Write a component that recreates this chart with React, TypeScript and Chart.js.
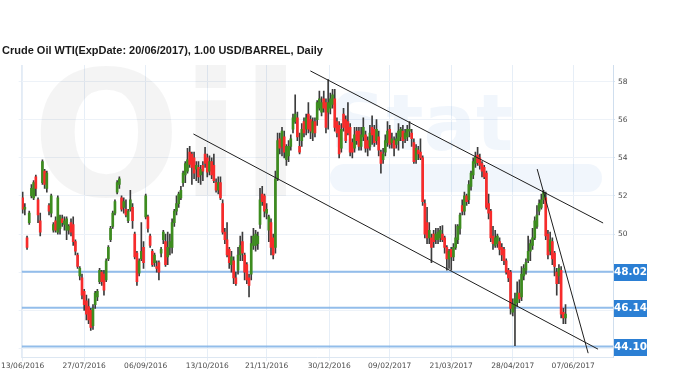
import React, { useEffect, useRef } from 'react';
import { Chart, registerables } from 'chart.js';

Chart.register(...registerables);

// [open, high, low, close] per trading day
const candles: number[][] = [
  [51.9, 52.2, 51.1, 51.3], [51.3, 51.6, 51.0, 51.4], [49.8, 49.9, 49.2, 49.3], [50.6, 51.2, 50.5, 51.1],
  [52.0, 52.6, 51.9, 52.4], [51.9, 52.8, 51.8, 52.7], [53.0, 53.1, 52.0, 52.4], [51.8, 51.9, 50.6, 51.0],
  [50.7, 51.1, 49.9, 50.1], [52.7, 53.9, 52.6, 53.8], [53.3, 53.4, 52.4, 52.6], [52.4, 53.3, 52.2, 53.2],
  [51.5, 51.6, 51.0, 51.2], [51.1, 52.1, 50.9, 52.0], [50.2, 50.6, 50.1, 50.5], [50.7, 50.9, 50.1, 50.2],
  [50.1, 52.0, 50.0, 51.9], [50.3, 51.0, 50.0, 50.9], [50.8, 51.0, 50.4, 50.6], [50.5, 50.9, 50.2, 50.7],
  [50.2, 50.9, 49.7, 50.8], [50.2, 50.5, 50.0, 50.4], [50.6, 50.8, 49.9, 50.1], [50.5, 50.9, 49.4, 49.6],
  [49.6, 49.7, 48.9, 49.1], [48.9, 49.0, 48.2, 48.3], [47.8, 48.3, 47.6, 48.2], [47.7, 47.9, 46.6, 46.8],
  [47.0, 47.1, 46.0, 46.3], [46.5, 46.8, 45.5, 45.8], [46.2, 46.6, 45.3, 45.5], [46.0, 46.1, 44.95, 45.1],
  [45.2, 46.3, 45.0, 46.1], [46.3, 47.0, 46.1, 46.9], [46.7, 47.1, 46.5, 47.0], [47.5, 48.2, 47.4, 48.1],
  [48.0, 48.1, 47.3, 47.5], [47.9, 48.1, 46.8, 47.05], [47.6, 48.7, 47.5, 48.6], [48.7, 49.4, 48.6, 49.3],
  [49.7, 50.4, 49.6, 50.3], [50.4, 51.2, 50.3, 51.1], [51.1, 51.8, 51.0, 51.7], [52.2, 52.8, 52.1, 52.7],
  [52.6, 53.0, 52.4, 52.9], [51.9, 52.0, 51.2, 51.3], [51.4, 51.9, 51.1, 51.7], [51.3, 51.8, 50.9, 51.0],
  [50.7, 51.3, 50.6, 51.2], [51.3, 52.3, 51.2, 51.8], [51.4, 51.6, 50.3, 50.7], [50.0, 50.1, 48.7, 48.8],
  [49.0, 49.1, 47.3, 47.5], [47.95, 48.7, 47.8, 48.6], [48.7, 50.6, 48.6, 49.1], [49.3, 49.6, 48.2, 48.5],
  [50.9, 52.1, 50.8, 52.0], [50.9, 51.0, 50.1, 50.3], [49.9, 50.0, 49.3, 49.4], [49.1, 49.2, 48.3, 48.4],
  // Oct - Nov 2016
  [48.5, 49.0, 48.3, 48.9], [48.3, 48.6, 48.0, 48.2], [48.5, 48.6, 47.6, 48.0], [49.0, 49.3, 48.8, 49.2],
  [49.7, 50.2, 49.5, 50.1], [49.6, 50.0, 48.3, 48.4], [48.8, 50.1, 48.4, 49.3], [49.3, 50.0, 48.9, 49.6],
  [49.3, 50.8, 49.0, 50.6], [50.6, 51.3, 50.4, 51.2], [51.2, 52.0, 51.0, 51.6], [51.6, 52.2, 51.4, 52.1],
  [51.9, 52.5, 51.8, 52.3], [52.7, 53.3, 52.5, 53.2], [53.1, 53.8, 52.7, 53.7], [53.3, 54.5, 53.2, 53.9],
  [54.3, 54.6, 53.5, 53.65], [54.2, 54.3, 52.6, 53.5], [54.0, 54.3, 52.9, 53.2], [53.4, 53.8, 52.8, 53.6],
  [53.5, 53.8, 52.7, 53.0], [53.1, 53.6, 52.6, 53.4], [53.6, 53.8, 52.8, 53.3], [54.2, 54.55, 53.5, 53.7],
  [54.0, 54.2, 53.0, 53.25], [53.3, 54.1, 53.1, 53.8], [53.8, 54.0, 52.9, 53.1], [53.6, 54.2, 52.7, 52.8],
  [52.7, 52.9, 52.2, 52.3], [52.3, 53.0, 52.1, 52.7], [52.7, 53.0, 51.8, 51.9], [51.6, 51.8, 50.0, 50.1],
  [50.1, 50.3, 49.5, 49.7], [49.7, 50.6, 48.8, 48.9], [49.2, 49.3, 48.2, 48.5], [48.4, 49.1, 48.0, 48.8],
  [48.6, 48.8, 47.4, 47.7], [47.7, 48.0, 47.3, 47.4], [48.1, 49.3, 47.9, 48.9], [48.9, 49.9, 48.6, 49.4],
  [49.6, 50.1, 48.6, 49.0], [48.9, 49.0, 47.6, 48.0], [48.4, 48.5, 47.4, 47.6], [47.7, 47.9, 46.7, 47.3],
  [47.9, 49.9, 47.6, 49.5], [49.4, 50.3, 49.2, 49.9], [49.4, 50.2, 49.1, 50.0], [49.5, 50.1, 49.2, 49.9],
  [50.5, 52.4, 50.3, 51.8], [52.1, 52.5, 51.5, 51.7], [52.0, 52.1, 50.9, 51.2], [51.1, 51.6, 50.8, 51.3],
  [50.2, 51.0, 49.6, 50.9], [50.6, 50.8, 48.9, 49.3], [49.8, 50.0, 48.7, 48.9], [49.3, 53.3, 49.0, 52.9],
  [52.9, 55.3, 52.8, 54.9], [55.0, 55.3, 54.2, 54.5], [54.6, 55.6, 54.1, 55.4], [55.1, 55.4, 54.0, 54.3],
  [53.9, 54.7, 53.6, 54.6], [54.1, 54.9, 53.8, 54.6], [54.6, 55.2, 54.4, 55.0], [55.5, 56.3, 55.3, 56.1],
  [55.9, 57.3, 55.8, 56.3], [56.1, 56.4, 54.9, 55.1],
  // Dec 2016 - Mar 2017
  [54.6, 55.3, 54.2, 54.3], [54.9, 55.8, 54.6, 55.5], [55.9, 56.1, 55.1, 55.3], [55.5, 56.3, 55.2, 56.1],
  [56.3, 56.9, 55.3, 55.5], [56.0, 56.2, 55.0, 55.4], [55.3, 56.1, 54.9, 55.9], [55.9, 56.1, 55.1, 55.3],
  [56.0, 57.0, 55.7, 56.9], [56.6, 57.5, 56.5, 57.1], [56.4, 57.2, 56.2, 56.9], [57.1, 57.5, 56.4, 56.6],
  [56.9, 57.1, 55.3, 55.6], [56.4, 58.1, 55.5, 56.9], [56.6, 57.4, 56.3, 57.1], [56.8, 57.6, 56.6, 57.3],
  [57.1, 57.6, 55.4, 55.6], [55.9, 56.1, 55.1, 55.3], [55.7, 55.9, 54.0, 54.2], [54.5, 55.8, 54.3, 55.5],
  [56.3, 56.6, 55.4, 55.6], [56.0, 56.2, 54.8, 54.9], [55.9, 56.9, 55.2, 55.3], [55.6, 55.8, 54.1, 54.3],
  [54.8, 55.0, 54.0, 54.3], [54.5, 55.6, 54.3, 55.2], [55.4, 55.6, 54.7, 54.9], [55.4, 55.6, 54.4, 54.6],
  [54.6, 55.6, 54.4, 55.2], [55.1, 56.1, 54.9, 55.6], [55.2, 55.4, 54.3, 54.5], [54.9, 55.1, 54.1, 54.5],
  [54.6, 55.7, 54.4, 55.3], [55.6, 56.2, 54.7, 55.2], [55.5, 55.7, 54.6, 54.8], [54.9, 56.0, 54.7, 55.5],
  [55.1, 55.4, 54.1, 54.4], [54.3, 54.4, 53.2, 53.7], [53.9, 54.5, 53.7, 54.2], [54.3, 55.2, 54.1, 54.9],
  [54.8, 55.9, 54.6, 55.4], [55.5, 55.7, 54.5, 54.7], [54.8, 55.3, 54.5, 55.0], [54.9, 55.1, 54.1, 54.5],
  [54.7, 55.3, 54.5, 55.0], [54.9, 55.8, 54.4, 55.4], [55.1, 55.6, 54.9, 55.5], [55.4, 55.7, 54.5, 54.9],
  [55.0, 55.5, 54.8, 55.3], [55.1, 55.7, 54.9, 55.5], [55.4, 55.9, 55.1, 55.5], [55.3, 55.5, 54.6, 55.0],
  [54.8, 55.0, 53.7, 53.8], [53.9, 54.7, 53.7, 54.5], [54.4, 54.6, 53.9, 54.2], [54.3, 55.0, 53.9, 54.0],
  [54.0, 54.1, 51.5, 51.7], [51.6, 51.8, 49.8, 50.0], [50.6, 51.4, 49.5, 49.8], [49.8, 50.6, 49.5, 50.2],
  [49.8, 50.0, 48.5, 49.3], [50.0, 50.2, 49.3, 49.6], [49.7, 50.3, 49.5, 50.0], [49.7, 50.3, 49.5, 50.1],
  // Mar - Jun 2017
  [49.8, 50.4, 49.6, 50.2], [50.0, 50.45, 49.6, 49.7], [49.8, 49.9, 49.0, 49.3], [49.3, 49.4, 48.1, 48.7],
  [48.7, 49.2, 48.2, 49.1], [49.2, 49.3, 48.1, 48.8], [48.8, 49.5, 48.6, 49.3], [49.3, 50.5, 49.2, 49.8],
  [49.7, 50.5, 49.5, 50.4], [50.3, 51.1, 50.0, 51.0], [51.5, 51.8, 51.0, 51.2], [51.2, 52.2, 51.0, 52.0],
  [52.0, 52.1, 51.5, 51.7], [51.8, 52.8, 51.6, 52.6], [52.5, 53.3, 52.3, 53.2], [53.1, 54.0, 52.9, 53.8],
  [53.7, 54.3, 53.5, 54.05], [54.15, 54.55, 53.6, 53.75], [54.0, 54.2, 53.4, 53.6], [53.7, 53.8, 53.0, 53.3],
  [53.5, 53.6, 52.9, 53.0], [53.2, 53.3, 51.3, 51.4], [51.6, 52.1, 50.8, 51.1], [51.2, 51.3, 49.6, 49.8],
  [49.9, 50.4, 49.2, 49.5], [49.4, 50.2, 49.3, 49.8], [49.5, 50.0, 49.3, 49.9], [49.6, 49.8, 48.9, 49.2],
  [49.3, 49.5, 48.6, 48.9], [49.2, 49.3, 48.4, 48.6], [48.6, 48.7, 47.9, 48.0], [48.1, 48.2, 47.5, 47.7],
  [48.0, 48.1, 45.8, 46.1], [45.9, 46.6, 45.7, 46.3], [46.2, 46.9, 44.15, 46.6], [46.4, 47.5, 46.2, 46.9],
  [46.9, 47.6, 46.4, 46.6], [46.7, 48.3, 46.5, 47.9], [47.8, 48.4, 47.6, 48.2], [48.1, 48.7, 47.9, 48.5],
  [48.6, 49.9, 48.5, 49.1], [49.1, 49.7, 48.6, 49.5], [49.4, 50.3, 49.2, 49.8], [49.8, 50.9, 49.7, 50.7],
  [50.4, 51.5, 50.3, 51.0], [51.2, 51.8, 51.0, 51.6], [51.4, 52.1, 51.3, 51.8], [51.8, 52.3, 51.6, 52.2],
  [51.9, 52.2, 49.7, 49.9], [50.0, 50.2, 48.7, 48.9], [49.1, 50.1, 48.9, 49.7], [49.6, 49.8, 48.4, 48.7],
  [49.0, 49.1, 47.8, 48.3], [48.0, 48.2, 46.8, 47.4], [47.8, 48.4, 47.4, 48.2], [48.1, 48.3, 45.6, 45.8],
  [45.9, 46.1, 45.3, 45.6], [45.6, 46.3, 45.3, 45.8],
];

const tickIndexes = [0, 28, 56, 84, 111, 139.5, 167, 195, 223, 250.5];
const tickLabels = [
  '13/06/2016', '27/07/2016', '06/09/2016', '13/10/2016', '21/11/2016',
  '30/12/2016', '09/02/2017', '21/03/2017', '28/04/2017', '07/06/2017',
];
const priceTicks = [44, 46, 48, 50, 52, 54, 56, 58];
const levels = [48.02, 46.14, 44.1];
// trend lines: [startIndex, startPrice, endIndex, endPrice]
const trendLines = [
  [77.7, 55.25, 261.8, 43.96],
  [130.9, 58.56, 264.1, 50.58],
  [234.1, 53.41, 257.3, 43.75],
];
const titleText = 'Crude Oil WTI(ExpDate: 20/06/2017), 1.00 USD/BARREL, Daily';

const X_MIN = -0.45;
const X_MAX = 268.6;
const Y_MIN = 43.55;
const Y_MAX = 58.87;

const UP = '#3d8c1f';
const DOWN = '#f72b2b';

const watermarkPlugin = {
  id: 'watermark',
  beforeDatasetsDraw(chart: any) {
    const { ctx, chartArea } = chart;
    ctx.save();
    ctx.beginPath();
    ctx.rect(chartArea.left, chartArea.top, chartArea.right - chartArea.left, chartArea.bottom - chartArea.top);
    ctx.clip();
    ctx.textBaseline = 'alphabetic';
    ctx.textAlign = 'left';
    ctx.fillStyle = 'rgba(0,0,0,0.042)';
    ctx.font = 'bold 175px "DejaVu Sans", sans-serif';
    ctx.fillText('Oil', 32, 196);
    ctx.fillStyle = 'rgba(60,130,210,0.07)';
    ctx.font = 'bold 78px "DejaVu Sans", sans-serif';
    ctx.fillText('Stat', 330, 150);
    ctx.beginPath();
    (ctx as any).roundRect ? (ctx as any).roundRect(330, 164, 272, 28, 14) : ctx.rect(330, 164, 272, 28);
    ctx.fill();
    ctx.restore();
  },
};

const overlayPlugin = {
  id: 'overlay',
  afterDraw(chart: any) {
    const { ctx, chartArea, scales } = chart;
    ctx.save();
    ctx.fillStyle = '#1a1a1a';
    ctx.font = 'bold 11px "Liberation Sans", Arial, sans-serif';
    ctx.textBaseline = 'alphabetic';
    ctx.textAlign = 'left';
    ctx.fillText(titleText, 2, 54);
    levels.forEach((lv) => {
      const y = scales.y.getPixelForValue(lv);
      const x = chartArea.right + 1;
      ctx.fillStyle = '#2b7fd4';
      ctx.fillRect(x, Math.round(y) - 8, 33, 17);
      ctx.fillStyle = '#ffffff';
      ctx.font = 'bold 10.5px "DejaVu Sans", sans-serif';
      ctx.textBaseline = 'middle';
      ctx.textAlign = 'center';
      ctx.fillText(lv.toFixed(2), x + 16.5, Math.round(y) + 0.5);
    });
    ctx.restore();
  },
};

export default function App() {
  const ref = useRef<HTMLCanvasElement | null>(null);

  useEffect(() => {
    const canvas = ref.current;
    if (!canvas) return;

    const wickData = candles.map((c, i) => ({ x: i, y: [c[2], c[1]] }));
    const bodyData = candles.map((c, i) => ({ x: i, y: [c[0], c[3]] }));
    const bodyColors = candles.map((c) => (c[3] >= c[0] ? UP : DOWN));

    const levelSets = levels.map((lv) => ({
      type: 'line' as const,
      data: [{ x: X_MIN, y: lv }, { x: X_MAX, y: lv }],
      borderColor: 'rgba(128,178,230,0.85)',
      borderWidth: 2,
      pointRadius: 0,
      order: 10,
    }));
    const trendSets = trendLines.map((t) => ({
      type: 'line' as const,
      data: [{ x: t[0], y: t[1] }, { x: t[2], y: t[3] }],
      borderColor: '#1e1e1e',
      borderWidth: 1,
      pointRadius: 0,
      order: 1,
    }));

    const chart = new Chart(canvas, {
      type: 'bar',
      data: {
        datasets: [
          ...levelSets,
          {
            type: 'bar',
            data: wickData as any,
            backgroundColor: '#3c3c3c',
            barThickness: 1,
            grouped: false,
            order: 4,
          },
          {
            type: 'bar',
            data: bodyData as any,
            backgroundColor: bodyColors,
            barThickness: 2,
            minBarLength: 1,
            grouped: false,
            order: 3,
          },
          ...trendSets,
        ] as any,
      },
      options: {
        responsive: false,
        animation: false,
        devicePixelRatio: 1,
        layout: { padding: { top: 65, left: 0, right: 0, bottom: 0 } },
        plugins: { legend: { display: false }, tooltip: { enabled: false }, title: { display: false } },
        scales: {
          x: {
            type: 'linear',
            offset: false,
            min: X_MIN,
            max: X_MAX,
            afterBuildTicks: (s: any) => {
              s.ticks = tickIndexes.map((v) => ({ value: v }));
            },
            afterFit: (s: any) => {
              s.height = 24;
            },
            ticks: {
              autoSkip: false,
              maxRotation: 0,
              padding: 1,
              color: '#4a4a4a',
              font: { family: '"DejaVu Sans", sans-serif', size: 7.5 },
              callback: (_v: any, i: number) => tickLabels[i],
            },
            grid: { color: '#e6eef7', tickLength: 4, offset: false },
            border: { color: '#dde7f2' },
          },
          y: {
            type: 'linear',
            position: 'right',
            min: Y_MIN,
            max: Y_MAX,
            afterBuildTicks: (s: any) => {
              s.ticks = priceTicks.map((v) => ({ value: v }));
            },
            afterFit: (s: any) => {
              s.width = 67;
            },
            ticks: {
              padding: 3,
              color: '#4a4a4a',
              font: { family: '"DejaVu Sans", sans-serif', size: 7.5 },
              callback: (v: any) => (v >= 50 ? String(v) : ''),
            },
            grid: { drawOnChartArea: false, color: '#d5e2ef', tickLength: 2 },
            border: { color: '#cfdeee' },
          },
          yl: {
            type: 'linear',
            position: 'left',
            min: Y_MIN,
            max: Y_MAX,
            afterBuildTicks: (s: any) => {
              s.ticks = priceTicks.map((v) => ({ value: v }));
            },
            afterFit: (s: any) => {
              s.width = 21;
            },
            ticks: { display: false },
            grid: { color: '#edf2f8', tickLength: 3 },
            border: { color: '#e3ebf5' },
          },
        },
      } as any,
      plugins: [watermarkPlugin, overlayPlugin],
    });
    return () => chart.destroy();
  }, []);

  return (
    <div style={{ position: 'fixed', left: 0, top: 0, width: 680, height: 381, background: '#ffffff' }}>
      <canvas ref={ref} width={680} height={381} style={{ display: 'block', width: 680, height: 381 }} />
    </div>
  );
}
